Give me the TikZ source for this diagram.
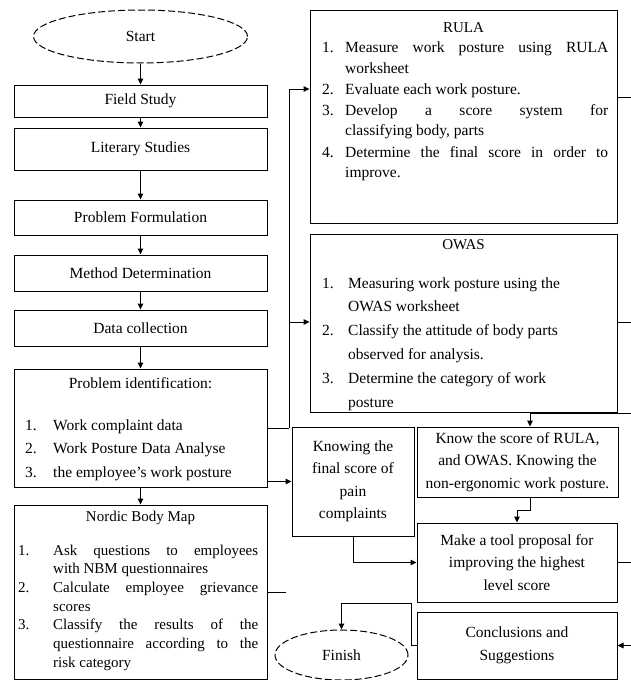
\documentclass[tikz,border=0pt]{standalone}
\usepackage{fontspec}
\setmainfont{Liberation Serif}
\usetikzlibrary{arrows.meta,shapes.geometric}
\tikzset{
  box/.style={draw, line width=1pt, inner sep=0pt, align=center, font=\fontsize{15.5}{22.5}\selectfont},
  oval/.style={draw, ellipse, dash pattern=on 7pt off 3pt, line width=1pt, inner sep=0pt, font=\fontsize{15.5}{18}\selectfont},
  txt/.style={inner sep=0pt, anchor=base west},
  ttl/.style={inner sep=0pt, font=\fontsize{15}{18}\selectfont},
  conn/.style={line width=1pt},
  arr/.style={line width=1pt, -{Triangle[length=6pt,width=5.5pt]}},
}
\newcommand\itm[3]{\par\noindent\hangindent=#1\hangafter=1\makebox[#1][l]{#2}#3\par}
\begin{document}
\begin{tikzpicture}[x=1pt,y=-1pt]
\useasboundingbox (0,0) rectangle (631,680);
% left column
\node[oval, minimum width=214, minimum height=53] (start) at (140.5,36.5) {Start};
\node[box, minimum width=253, minimum height=32] (field) at (140.5,101) {Field Study};
\node[box, minimum width=253, minimum height=42] (lit) at (140.5,149) {Literary Studies};
\node[box, minimum width=253, minimum height=35] (pf) at (140.5,217.5) {Problem Formulation};
\node[box, minimum width=253, minimum height=36] (md) at (140.5,273) {Method Determination};
\node[box, minimum width=253, minimum height=36] (dc) at (140.5,328) {Data collection};
\node[box, minimum width=253, minimum height=118] (pid) at (140.5,428) {};
\node[ttl, font=\fontsize{15.5}{18}\selectfont] (pidt) at (140.5,383) {Problem identification:};
\node[txt] (pidl) at (25,430) {\begin{minipage}[t]{235pt}\fontsize{15.5}{23.5}\selectfont\raggedright
\itm{28pt}{1.}{Work complaint data}
\itm{28pt}{2.}{Work Posture Data Analyse}
\itm{28pt}{3.}{the employee's work posture}
\end{minipage}};
\node[box, minimum width=253, minimum height=174] (nbm) at (140.5,592) {};
\node[ttl] (nbmt) at (140.5,518) {Nordic Body Map};
\node[txt] (nbml) at (18,555) {\begin{minipage}[t]{240pt}\fontsize{15}{18.7}\selectfont
\itm{35pt}{1.}{Ask questions to employees\linebreak with NBM questionnaires}
\itm{35pt}{2.}{Calculate employee grievance\linebreak scores}
\itm{35pt}{3.}{Classify the results of the\linebreak questionnaire according to the\linebreak risk category}
\end{minipage}};
% right column
\node[box, minimum width=307, minimum height=213] (rula) at (463.5,116.5) {};
\node[ttl] (rulat) at (463.5,28) {RULA};
\node[txt] (rulal) at (322,52) {\begin{minipage}[t]{286pt}\fontsize{15.5}{21}\selectfont
\itm{23pt}{1.}{Measure work posture using RULA\linebreak worksheet}
\itm{23pt}{2.}{Evaluate each work posture.}
\itm{23pt}{3.}{Develop a score system for\linebreak classifying body, parts}
\itm{23pt}{4.}{Determine the final score in order to\linebreak improve.}
\end{minipage}};
\node[box, minimum width=307, minimum height=178] (owas) at (463.5,323) {};
\node[ttl] (owast) at (463.5,245) {OWAS};
\node[txt] (owasl) at (322,288) {\begin{minipage}[t]{286pt}\fontsize{15.5}{23.8}\selectfont\raggedright
\itm{26pt}{1.}{Measuring work posture using the\newline OWAS worksheet}
\itm{26pt}{2.}{Classify the attitude of body parts\newline observed for analysis.}
\itm{26pt}{3.}{Determine the category of work\newline posture}
\end{minipage}};
\node[box, minimum width=122, minimum height=109] (kfs) at (353,481.5) {Knowing the\\ final score of\\ pain\\ complaints};
\node[box, minimum width=201, minimum height=70] (know) at (517.5,462) {Know the score of RULA,\\ and OWAS. Knowing the\\ non-ergonomic work posture.};
\node[box, minimum width=200, minimum height=79] (make) at (517,562.5) {Make a tool proposal for\\ improving the highest\\ level score};
\node[box, minimum width=200, minimum height=67] (concl) at (517,645.5) {Conclusions and\\ Suggestions};
\node[oval, minimum width=133, minimum height=50] (finish) at (341.5,655) {Finish};
% helper coordinates
\coordinate (jn) at (289,428);
\coordinate (ya) at (0,89);
\coordinate (yo) at (0,322);
\coordinate (kx) at (530,0);
\coordinate (yf) at (0,603);
\coordinate (E1) at (631,97);
\coordinate (E2) at (631,322);
\coordinate (E3) at (631,413);
\coordinate (E5) at (631,645.5);
% connectors
\draw[arr] (start.south) -- (field.north);
\draw[arr] (field) -- (lit);
\draw[arr] (lit) -- (pf);
\draw[arr] (pf) -- (md);
\draw[arr] (md) -- (dc);
\draw[arr] (dc) -- (pid);
\draw[arr] (pid) -- (nbm);
\draw[conn] (pid.east) -- (jn);
\draw[arr] (jn) |- (rula.west |- ya);
\draw[arr] (jn) |- (owas.west |- yo);
\draw[arr] (pid.east |- kfs.west) -- (kfs.west);
\draw[conn] (nbm.east) -- ++(18,0);
\draw[arr] (kfs.south) |- (make.west);
\draw[arr] (know.south -| kx) -- ++(0,13) -| (make.north);
\draw[conn] (rula.east |- E1) -- (E1);
\draw[conn] (owas.east |- E2) -- (E2);
\draw[arr] (E3) -| (know.north -| kx);
\draw[conn] (make.east) -- ++(14,0);
\draw[arr] (E5) -- (concl.east);
\draw[arr] (concl.west) -- ++(-5,0) |- (finish.north |- yf) -- (finish.north);
\end{tikzpicture}
\end{document}
